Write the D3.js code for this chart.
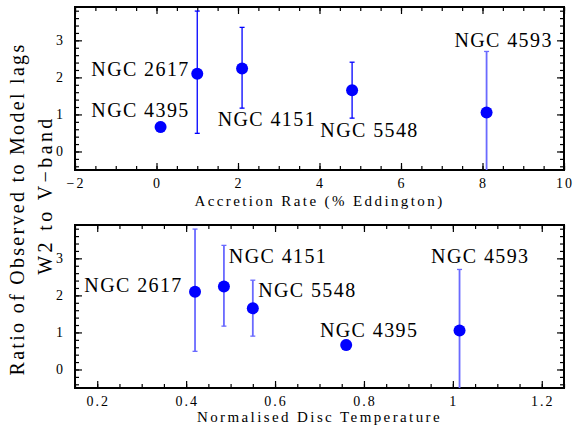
<!DOCTYPE html>
<html lang="en">
<head>
<meta charset="UTF-8">
<title>Observed / model lag ratio</title>
<script src="https://d3js.org/d3.v7.min.js"></script>
<style>
  body { margin: 0; background: #fff; }
  text { font-family: "Liberation Serif", "Times New Roman", serif; fill: #000; }
</style>
</head>
<body>
<svg id="main" width="574" height="428"></svg>
<script>
// data
let names = ['NGC 4395', 'NGC 2617', 'NGC 4151', 'NGC 5548', 'NGC 4593'];
let accretion = [0.1, 1.0, 2.1, 4.8, 8.1];      // % Eddington
let discTemp = [0.76, 0.42, 0.485, 0.55, 1.015]; // normalised
let ratio = [0.66, 2.1, 2.24, 1.65, 1.05];
let ratioLo = [0.53, 0.49, 1.17, 0.9, -1.0];    // NGC 4593 runs off the bottom
let ratioHi = [0.79, 3.79, 3.35, 2.41, 2.7];

let topXTicks = [-2, 0, 2, 4, 6, 8, 10];
let botXTicks = [0.2, 0.4, 0.6, 0.8, 1.0, 1.2];
let yTicks = [0, 1, 2, 3];

// where each name is written (data units, start of text / baseline)
let topLabels = [[-1.6, 0.93], [-1.6, 2.03], [1.5, 0.68], [4.02, 0.38], [7.31, 2.82]];
let botLabels = [[0.701, 0.88], [0.171, 2.1], [0.496, 2.87], [0.562, 1.95], [0.951, 2.87]];

let svg = d3.select('#main');
let left = 75, right = 564;
let blue = '#0000ff', paleBlue = '#6a6aff';

function minorTicks(lo, hi, step) {
    let out = [];
    let n = Math.round((hi - lo) / step);
    for (let i = 0; i <= n; i++) out.push(+(lo + i * step).toFixed(6));
    return out;
}

function ticks(g, axis, pos, minor, major) {
    g.append('g').attr('transform', pos)
        .call(axis().tickValues(minor).tickSize(-4).tickFormat(''))
        .call(function (s) { s.select('.domain').remove(); });
    g.append('g').attr('transform', pos)
        .call(axis().tickValues(major).tickSize(-7).tickFormat(''))
        .call(function (s) { s.select('.domain').remove(); });
}

function panel(opts) {
    let x = d3.scaleLinear().domain(opts.xDomain).range([left, right]);
    let y = d3.scaleLinear().domain([-0.5, 3.9]).range([opts.bottom, opts.top]);
    let g = svg.append('g');
    let h = opts.bottom - opts.top, w = right - left;

    let clipId = 'clip' + opts.top;
    g.append('clipPath').attr('id', clipId)
        .append('rect').attr('x', left).attr('y', opts.top).attr('width', w).attr('height', h);

    // minor + major ticks on all four sides, pointing inward
    let xMinor = minorTicks(opts.xDomain[0], opts.xDomain[1], opts.xMinor);
    let yMinor = minorTicks(-0.4, 3.8, 0.2);
    ticks(g, function () { return d3.axisBottom(x); }, 'translate(0,' + opts.bottom + ')', xMinor, opts.xTicks);
    ticks(g, function () { return d3.axisTop(x); }, 'translate(0,' + opts.top + ')', xMinor, opts.xTicks);
    ticks(g, function () { return d3.axisLeft(y); }, 'translate(' + left + ',0)', yMinor, yTicks);
    ticks(g, function () { return d3.axisRight(y); }, 'translate(' + right + ',0)', yMinor, yTicks);
    g.selectAll('.tick line').attr('stroke', '#000').attr('stroke-width', 1.2);

    // tick labels
    g.selectAll('.xlab').data(opts.xTicks).enter().append('text')
        .attr('x', function (d) { return x(d) + 1; })
        .attr('y', opts.bottom + 18)
        .attr('text-anchor', 'middle')
        .style('font-size', '14px')
        .style('letter-spacing', '2px')
        .text(function (d) { return d < 0 ? '\u2212' + (-d) : String(d); });
    g.selectAll('.ylab').data(yTicks).enter().append('text')
        .attr('x', left - 12)
        .attr('y', function (d) { return y(d) + 5; })
        .attr('text-anchor', 'end')
        .style('font-size', '14px')
        .text(function (d) { return d; });

    // box
    g.append('rect').attr('x', left).attr('y', opts.top).attr('width', w).attr('height', h)
        .attr('fill', 'none').attr('stroke', '#000').attr('stroke-width', 2);

    // error bars
    let eb = g.append('g').attr('clip-path', 'url(#' + clipId + ')');
    names.forEach(function (n, i) {
        let xv = opts.xs[i];
        let pale = opts.pale.indexOf(i) >= 0;
        let col = pale ? paleBlue : blue;
        eb.append('line')
            .attr('x1', x(xv)).attr('x2', x(xv))
            .attr('y1', y(ratioLo[i])).attr('y2', y(ratioHi[i]))
            .attr('stroke', col).attr('stroke-width', pale ? 1.8 : 1.3);
        [ratioLo[i], ratioHi[i]].forEach(function (v) {
            eb.append('line')
                .attr('x1', x(xv) - 2.5).attr('x2', x(xv) + 2.5)
                .attr('y1', y(v)).attr('y2', y(v))
                .attr('stroke', col).attr('stroke-width', 1.3);
        });
    });

    // points
    g.selectAll('circle').data(names).enter().append('circle')
        .attr('cx', function (d, i) { return x(opts.xs[i]); })
        .attr('cy', function (d, i) { return y(ratio[i]); })
        .attr('r', 6)
        .attr('fill', blue);

    // names
    g.selectAll('.name').data(names).enter().append('text')
        .attr('x', function (d, i) { return x(opts.labels[i][0]); })
        .attr('y', function (d, i) { return y(opts.labels[i][1]); })
        .style('font-size', '20px')
        .style('letter-spacing', '1.4px')
        .text(function (d) { return d; });

    // x title
    g.append('text')
        .attr('x', (left + right) / 2)
        .attr('y', opts.titleY)
        .attr('text-anchor', 'middle')
        .style('font-size', '15px')
        .style('letter-spacing', '2.4px')
        .text(opts.title);
}

panel({
    top: 7, bottom: 170, xDomain: [-2, 10], xTicks: topXTicks, xMinor: 0.5,
    xs: accretion, labels: topLabels, pale: [0, 4],
    title: 'Accretion Rate (% Eddington)', titleY: 206
});
panel({
    top: 225, bottom: 388, xDomain: [0.15, 1.25], xTicks: botXTicks, xMinor: 0.05,
    xs: discTemp, labels: botLabels, pale: [0, 1, 2, 3, 4],
    title: 'Normalised Disc Temperature', titleY: 422
});

// shared y title, two lines
svg.append('text')
    .attr('transform', 'translate(24,209) rotate(-90)')
    .attr('text-anchor', 'middle')
    .style('font-size', '20px')
    .style('letter-spacing', '2.3px')
    .text('Ratio of Observed to Model lags');
svg.append('text')
    .attr('transform', 'translate(52,195) rotate(-90)')
    .attr('text-anchor', 'middle')
    .style('font-size', '20px')
    .style('letter-spacing', '3.4px')
    .text('W2 to V\u2212band');
</script>
</body>
</html>
